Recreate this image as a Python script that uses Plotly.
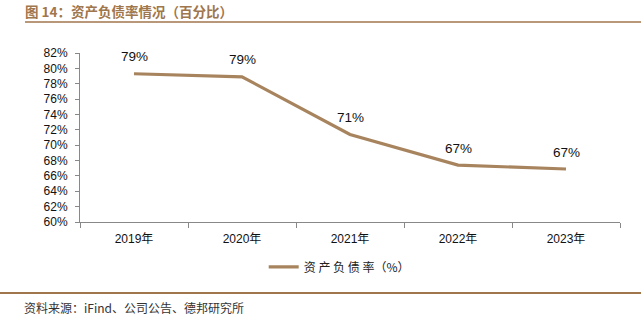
import plotly.graph_objects as go

years = ["2019年", "2020年", "2021年", "2022年", "2023年"]
debt_ratio = [79.3, 78.9, 71.4, 67.4, 66.9]
labels = ["79%", "79%", "71%", "67%", "67%"]
y_ticks = list(range(60, 84, 2))

brown = "#A8845E"
title_color = "#A0764C"
font_family = "Liberation Sans, Arial, Noto Sans CJK SC"
cjk_family = "Noto Sans CJK SC, Liberation Sans"

fig = go.Figure()
fig.add_trace(go.Scatter(
    x=years, y=debt_ratio, mode="lines",
    line=dict(color=brown, width=3.2),
    name="资 产 负 债 率（%）",
    hoverinfo="skip",
))

for xv, yv, t in zip(years, debt_ratio, labels):
    fig.add_annotation(x=xv, y=yv, text=t, showarrow=False, yshift=17,
                       font=dict(family=font_family, size=13.5, color="#111111"))

# title
fig.add_annotation(xref="paper", yref="paper", x=(24 - 80) / 540, y=1.0, yanchor="bottom",
                   xanchor="left", yshift=31, borderpad=0,
                   text="<b>图 14：资产负债率情况（百分比）</b>", showarrow=False,
                   font=dict(family=cjk_family, size=13.5, color=title_color))
# source
fig.add_annotation(xref="paper", yref="paper", x=(22 - 80) / 540, y=0, yanchor="top",
                   xanchor="left", yshift=-75,
                   text="资料来源：iFind、公司公告、德邦研究所", showarrow=False,
                   font=dict(family=cjk_family, size=12, color="#333333"))

fig.update_layout(
    width=641, height=321,
    margin=dict(l=80, r=21, t=53, b=99),
    paper_bgcolor="white", plot_bgcolor="white",
    showlegend=True,
    legend=dict(orientation="h", x=0.48, xanchor="center", y=-0.18, yanchor="top",
                bgcolor="rgba(0,0,0,0)",
                font=dict(family=cjk_family, size=12, color="#222222"),
                itemwidth=30),
)

fig.update_xaxes(type="category", range=[-0.5, 4.5], showline=True, linecolor="#888888",
                 linewidth=1, ticks="outside", tickson="boundaries", ticklen=5,
                 tickcolor="#888888", showgrid=False, ticklabelstandoff=6,
                 tickfont=dict(family=font_family, size=12, color="#111111"))
fig.update_yaxes(range=[60, 82], tickvals=y_ticks, ticktext=[f"{v}%" for v in y_ticks],
                 showline=True, linecolor="#888888", linewidth=1, ticks="outside",
                 ticklen=4, tickcolor="#888888", showgrid=False, zeroline=False,
                 ticklabelstandoff=5,
                 tickfont=dict(family=font_family, size=12, color="#111111"))

# decorative rules (in pixel-equivalent paper coords)
H = 321 - 53 - 99
fig.add_shape(type="line", xref="paper", yref="paper",
              x0=(25 - 80) / 540, x1=(641 - 80) / 540,
              y0=(222 - 22) / H, y1=(222 - 22) / H,
              line=dict(color=title_color, width=1.5))
fig.add_shape(type="line", xref="paper", yref="paper",
              x0=(0 - 80) / 540, x1=(641 - 80) / 540,
              y0=(222 - 293) / H, y1=(222 - 293) / H,
              line=dict(color=title_color, width=2))

fig.write_html("out.html")
